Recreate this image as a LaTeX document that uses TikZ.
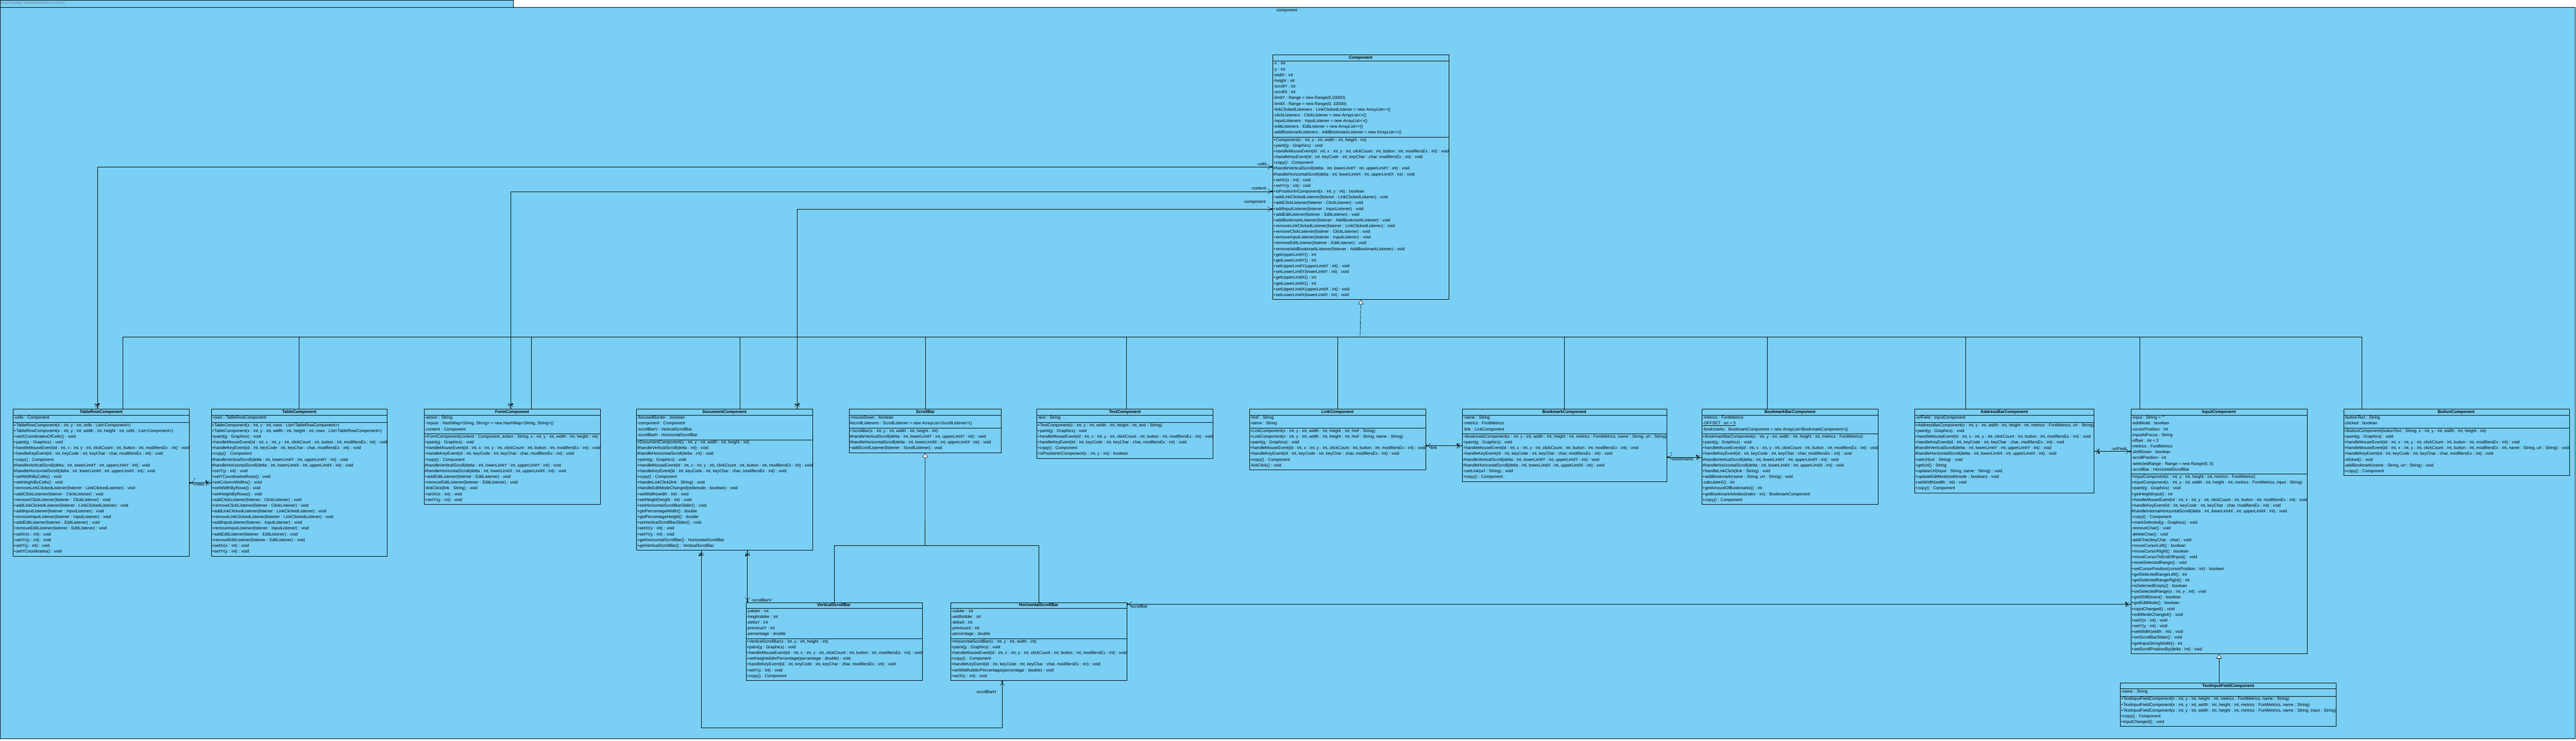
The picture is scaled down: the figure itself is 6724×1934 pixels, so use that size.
\documentclass[tikz,border=0pt]{standalone}
\usepackage{fontspec}
\setmainfont{Liberation Sans}
\usepackage{array}
\usetikzlibrary{positioning, arrows.meta, decorations.markings}
\definecolor{vpblue}{RGB}{122,207,245}

\newcommand{\classtab}[4]{%
  \begin{tabular}{@{\hspace{1.5pt}}l@{}}
  \makebox[#1pt][c]{\bfseries #2}\\ \hline
  #3\\[4pt] \hline
  #4\\[4pt]
  \end{tabular}}
\newcommand{\umlPaint}{+paint(g : Graphics) : void}
\newcommand{\umlMouse}{+handleMouseEvent(id : int, x : int, y : int, clickCount : int, button : int, modifiersEx : int) : void}
\newcommand{\umlKey}{+handleKeyEvent(id : int, keyCode : int, keyChar : char, modifiersEx : int) : void}
\newcommand{\umlVScroll}{\#handleVerticalScroll(delta : int, lowerLimitY : int, upperLimitY : int) : void}
\newcommand{\umlHScroll}{\#handleHorizontalScroll(delta : int, lowerLimitX : int, upperLimitX : int) : void}
\newcommand{\umlCopy}{+copy() : Component}

\begin{document}
\begin{tikzpicture}[x=1pt, y=-1pt,
umlclass/.style={draw=black, line width=0.9pt, fill=vpblue, inner sep=0pt, anchor=north west, font=\fontsize{11}{15}\selectfont},
conn/.style={draw=black, line width=0.8pt},
generalization/.style={conn, -{Triangle[length=12pt, width=14pt, fill=white]}},
assoc/.style={conn, -{Straight Barb[length=7pt, width=12pt] Circle[length=5pt]}},
nonnav/.style={postaction={decorate, decoration={markings, mark=at position 10pt with {\draw[line width=0.8pt] (-4pt,-6pt) -- (4pt,6pt) (-4pt,6pt) -- (4pt,-6pt);}}}},
role/.style={font=\fontsize{11}{13}\selectfont, inner sep=1pt}
]
\useasboundingbox (0,0) rectangle (6724,1934);
\draw[fill=vpblue, line width=1pt] (0,0) rectangle (1340,20);
\node[anchor=north west, text=black!55, font=\fontsize{8}{9}\selectfont, inner sep=1pt] (edition_note) at (0,3) {Visual Paradigm Standard(anissa(K.U.Leuven))};
\draw[fill=vpblue, line width=1.2pt] (0,20) rectangle (6722,1929);
\node[role] (package_name) at (3359,28) {component};

\node[umlclass] (component) at (3322,143) {\classtab{455.5}{\textit{Component}}{%
-x : int\\ -y : int\\ -width : int\\ -height : int\\ -scrollY : int\\ -scrollX : int\\
-limitY : Range = new Range(0,10000)\\ -limitX : Range = new Range(0, 10000)\\
-linkClickedListeners : LinkClickedListener = new ArrayList<>()\\
-clickListeners : ClickListener = new ArrayList<>()\\
-inputListeners : InputListener = new ArrayList<>()\\
-editListeners : EditListener = new ArrayList<>()\\
-addBookmarkListeners : AddBookmarkListener = new ArrayList<>()}{%
+Component(x : int, y : int, width : int, height : int)\\
\textit{\umlPaint}\\ \textit{\umlMouse}\\ \textit{\umlKey}\\ \textit{\umlCopy}\\
\umlVScroll\\ \umlHScroll\\
+setXr(x : int) : void\\ +setYr(y : int) : void\\
+isPositionInComponent(x : int, y : int) : boolean\\
+addLinkClickedListener(listener : LinkClickedListener) : void\\
+addClickListener(listener : ClickListener) : void\\
+addInputListener(listener : InputListener) : void\\
+addEditListener(listener : EditListener) : void\\
+addBookmarkListener(listener : AddBookmarkListener) : void\\
+removeLinkClickedListener(listener : LinkClickedListener) : void\\
+removeClickListener(listener : ClickListener) : void\\
+removeInputListener(listener : InputListener) : void\\
+removeEditListener(listener : EditListener) : void\\
+removeAddBookmarkListener(listener : AddBookmarkListener) : void\\
+getUpperLimitY() : int\\ +getLowerLimitY() : int\\
+setUpperLimitY(upperLimitY : int) : void\\ +setLowerLimitY(lowerLimitY : int) : void\\
+getUpperLimitX() : int\\ +getLowerLimitX() : int\\
+setUpperLimitX(upperLimitX : int) : void\\ +setLowerLimitX(lowerLimitX : int) : void}};

\node[umlclass] (table_row) at (34,1068) {\classtab{456.5}{TableRowComponent}{-cells : Component}{%
+TableRowComponent(x : int, y : int, cells : List<Component>)\\
+TableRowComponent(x : int, y : int, width : int, height : int, cells : List<Component>)\\
+setXCoordinatesOfCells() : void\\ \umlPaint\\ \umlMouse\\ \umlKey\\ \umlCopy\\
\umlVScroll\\ \umlHScroll\\
+setWidthByCells() : void\\ +setHeightByCells() : void\\
+removeLinkClickedListener(listener : LinkClickedListener) : void\\
+addClickListener(listener : ClickListener) : void\\
+removeClickListener(listener : ClickListener) : void\\
+addLinkClickedListener(listener : LinkClickedListener) : void\\
+addInputListener(listener : InputListener) : void\\
+removeInputListener(listener : InputListener) : void\\
+addEditListener(listener : EditListener) : void\\
+removeEditListener(listener : EditListener) : void\\
+setXr(x : int) : void\\ +setYr(y : int) : void\\ +setY(y : int) : void\\
+setYCoordinates() : void}};

\node[umlclass] (table) at (551,1068) {\classtab{456.5}{TableComponent}{-rows : TableRowComponent}{%
+TableComponent(x : int, y : int, rows : List<TableRowComponent>)\\
+TableComponent(x : int, y : int, width : int, height : int, rows : List<TableRowComponent>)\\
\umlPaint\\ \umlMouse\\ \umlKey\\ \umlCopy\\ \umlVScroll\\ \umlHScroll\\
+setY(y : int) : void\\ +setYCoordinatesRows() : void\\ +setColumnWidths() : void\\
+setWidthByRows() : void\\ +setHeightByRows() : void\\
+addClickListener(listener : ClickListener) : void\\
+removeClickListener(listener : ClickListener) : void\\
+addLinkClickedListener(listener : LinkClickedListener) : void\\
+removeLinkClickedListener(listener : LinkClickedListener) : void\\
+addInputListener(listener : InputListener) : void\\
+removeInputListener(listener : InputListener) : void\\
+addEditListener(listener : EditListener) : void\\
+removeEditListener(listener : EditListener) : void\\
+setXr(x : int) : void\\ +setYr(y : int) : void}};

\node[umlclass] (form) at (1107,1068) {\classtab{455.5}{FormComponent}{%
-action : String\\
\textasciitilde inputs : HashMap<String, String> = new HashMap<String, String>()\\
-content : Component}{%
+FormComponent(content : Component, action : String, x : int, y : int, width : int, height : int)\\
\umlPaint\\ \umlMouse\\ \umlKey\\ \umlCopy\\ \umlVScroll\\ \umlHScroll\\
+addEditListener(listener : EditListener) : void\\
+removeEditListener(listener : EditListener) : void\\
-linkClick(link : String) : void\\ +setXr(x : int) : void\\ +setYr(y : int) : void}};

\node[umlclass] (document) at (1661,1068) {\classtab{456.5}{DocumentComponent}{%
-focusedBorder : boolean\\ -component : Component\\
-scrollBarV : VerticalScrollBar\\ -scrollBarH : HorizontalScrollBar}{%
+DocumentComponent(x : int, y : int, width : int, height : int)\\
\#handleVerticalScroll(delta : int) : void\\ \#handleHorizontalScroll(delta : int) : void\\
\umlPaint\\ \umlMouse\\ \umlKey\\ \umlCopy\\
+handleLinkClick(link : String) : void\\
+handleEditModeChanged(editmode : boolean) : void\\
+setWidth(width : int) : void\\ +setHeight(height : int) : void\\
+setHorizontalScrollBarSlider() : void\\
+getPercentageWidth() : double\\ +getPercentageHeight() : double\\
+setVerticalScrollBarSlider() : void\\
+setXr(x : int) : void\\ +setYr(y : int) : void\\
+getHorizontalScrollBar() : HorizontalScrollBar\\
+getVerticalScrollBar() : VerticalScrollBar}};

\node[umlclass] (scroll_bar) at (2216,1068) {\classtab{395.5}{\textit{ScrollBar}}{%
-mouseDown : boolean\\
\#scrollListeners : ScrollListener = new ArrayList<ScrollListener>()}{%
+ScrollBar(x : int, y : int, width : int, height : int)\\
\umlVScroll\\ \umlHScroll\\
+addScrollListener(listener : ScrollListener) : void}};

\node[umlclass] (text_comp) at (2706,1068) {\classtab{456.5}{TextComponent}{-text : String}{%
+TextComponent(x : int, y : int, width : int, height : int, text : String)\\
\umlPaint\\ \umlMouse\\ \umlKey\\ \umlCopy\\
+isPositionInComponent(x : int, y : int) : boolean}};

\node[umlclass] (link) at (3261,1068) {\classtab{456.5}{LinkComponent}{-href : String\\ -name : String}{%
+LinkComponent(x : int, y : int, width : int, height : int, href : String)\\
+LinkComponent(x : int, y : int, width : int, height : int, href : String, name : String)\\
\umlPaint\\ \umlMouse\\ \umlKey\\ \umlCopy\\ -linkClick() : void}};

\node[umlclass] (bookmark) at (3817,1068) {\classtab{528.5}{BookmarkComponent}{%
-name : String\\ -metrics : FontMetrics\\ -link : LinkComponent}{%
+BookmarkComponent(x : int, y : int, width : int, height : int, metrics : FontMetrics, name : String, url : String)\\
\umlPaint\\ \umlMouse\\ \umlKey\\ \umlVScroll\\ \umlHScroll\\
+setLink(url : String) : void\\ \umlCopy}};

\node[umlclass] (bookmark_bar) at (4442,1068) {\classtab{456.5}{BookmarkBarComponent}{%
-metrics : FontMetrics\\ \underline{-OFFSET : int = 5}\\
-bookmarks : BookmarkComponent = new ArrayList<BookmarkComponent>()}{%
+BookmarkBarComponent(x : int, y : int, width : int, height : int, metrics : FontMetrics)\\
\umlPaint\\ \umlMouse\\ \umlKey\\ \umlVScroll\\ \umlHScroll\\
+handleLinkClick(link : String) : void\\
+addBookmark(name : String, url : String) : void\\
-calculateX() : int\\ +getAmountOfBookmarks() : int\\
+getBookmarkAtIndex(index : int) : BookmarkComponent\\ \umlCopy}};

\node[umlclass] (address_bar) at (4997,1068) {\classtab{465.5}{AddressBarComponent}{-urlField : InputComponent}{%
+AddressBarComponent(x : int, y : int, width : int, height : int, metrics : FontMetrics, url : String)\\
\umlPaint\\ \umlMouse\\ \umlKey\\ \umlVScroll\\ \umlHScroll\\
+setUrl(url : String) : void\\ +getUrl() : String\\
+updateUrl(input : String, name : String) : void\\
+updateEditMode(editmode : boolean) : void\\
+setWidth(width : int) : void\\ \umlCopy}};

\node[umlclass] (input) at (5562,1068) {\classtab{455.5}{InputComponent}{%
-input : String = \char34\char34\\ -editMode : boolean\\ -cursorPosition : int\\
-inputAtFocus : String\\ -offset : int = 2\\ -metrics : FontMetrics\\
-shiftDown : boolean\\ -scrollPosition : int\\
-selectedRange : Range = new Range(0, 0)\\ -scrollBar : HorizontalScrollBar}{%
+InputComponent(x : int, y : int, height : int, metrics : FontMetrics)\\
+InputComponent(x : int, y : int, width : int, height : int, metrics : FontMetrics, input : String)\\
\umlPaint\\ +getHeightInput() : int\\ \umlMouse\\ \umlKey\\
\#handleInternalHorizontalScroll(delta : int, lowerLimitX : int, upperLimitX : int) : void\\
\umlCopy\\ +markSelected(g : Graphics) : void\\
-removeChar() : void\\ -deleteChar() : void\\ -addChar(keyChar : char) : void\\
+moveCursorLeft() : boolean\\ +moveCursorRight() : boolean\\
+moveCursorToEndOfInput() : void\\ +resetSelectedRange() : void\\
+setCursorPosition(cursorPosition : int) : boolean\\
+getSelectedRangeLeft() : int\\ +getSelectedRangeRight() : int\\
+isSelectedEmpty() : boolean\\ +setSelectedRange(x : int, y : int) : void\\
+getShiftDown() : boolean\\ +getEditMode() : boolean\\
+inputChanged() : void\\ +editModeChanged() : void\\
+setX(x : int) : void\\ +setY(y : int) : void\\ +setWidth(width : int) : void\\
+setScrollBarSlider() : void\\ +getInputStringWidth() : int\\
+setScrollPositionBy(delta : int) : void}};

\node[umlclass] (button) at (6117,1068) {\classtab{584.5}{ButtonComponent}{-buttonText : String\\ -clicked : boolean}{%
+ButtonComponent(buttonText : String, x : int, y : int, width : int, height : int)\\
\umlPaint\\ \umlMouse\\
+handleMouseEvent(id : int, x : int, y : int, clickCount : int, button : int, modifiersEx : int, name : String, url : String) : void\\
\umlKey\\ -clicked() : void\\ -addBookmark(name : String, url : String) : void\\ \umlCopy}};

\node[umlclass] (vertical_scroll_bar) at (1947,1573) {\classtab{455.5}{VerticalScrollBar}{%
-yslider : int\\ -heightslider : int\\ -deltaY : int\\ -previousY : int\\ -percentage : double}{%
+VerticalScrollBar(x : int, y : int, height : int)\\ \umlPaint\\ \umlMouse\\
+setHeightsliderPercentage(percentage : double) : void\\ \umlKey\\
+setY(y : int) : void\\ \umlCopy}};

\node[umlclass] (horizontal_scroll_bar) at (2481,1573) {\classtab{456.5}{HorizontalScrollBar}{%
-xslider : int\\ -widthslider : int\\ -deltaX : int\\ -previousX : int\\ -percentage : double}{%
+HorizontalScrollBar(x : int, y : int, width : int)\\ \umlPaint\\ \umlMouse\\ \umlCopy\\ \umlKey\\
+setWidthsliderPercentage(percentage : double) : void\\ +setX(x : int) : void}};

\node[umlclass] (text_input_field) at (5534,1783) {\classtab{560.5}{TextInputFieldComponent}{-name : String}{%
+TextInputFieldComponent(x : int, y : int, height : int, metrics : FontMetrics, name : String)\\
+TextInputFieldComponent(x : int, y : int, width : int, height : int, metrics : FontMetrics, name : String)\\
+TextInputFieldComponent(x : int, y : int, width : int, height : int, metrics : FontMetrics, name : String, input : String)\\
\umlCopy\\ +inputChanged() : void}};

\coordinate (bus) at (3550,880);
\draw[generalization] (bus) -- (component.south);
\foreach \n/\dx in {table_row/286, table/229, form/280, document/271, scroll_bar/199, text_comp/234, link/230, bookmark/266, bookmark_bar/171, address_bar/134, input/23, button/48}
  \draw[conn] ([xshift=\dx pt]\n.north west) |- (bus);

\coordinate (scroll_bus) at (2414.5,1425);
\draw[generalization] (scroll_bus) -- (scroll_bar.south);
\draw[conn] (vertical_scroll_bar.north) |- (scroll_bus);
\draw[conn] (horizontal_scroll_bar.north) |- (scroll_bus);
\draw[generalization] (text_input_field.north -| input.south) -- (input.south);

\draw[assoc, nonnav] ([xshift=220pt]table_row.north west) |- (component.west |- 0,436)
  node[role, anchor=south east, xshift=-14pt, yshift=2pt] (cells_label) {-cells};
\draw[assoc, nonnav] ([xshift=226pt]form.north west) |- (component.west |- 0,500)
  node[role, anchor=south east, xshift=-16pt, yshift=3pt] (content_label) {-content};
\draw[assoc, nonnav] ([xshift=420pt]document.north west) |- (component.west |- 0,546)
  node[role, anchor=south east, xshift=-17pt, yshift=12pt] (component_label) {-component};

\draw[assoc, nonnav] (table.west |- 0,1261) -- (table_row.east |- 0,1261)
  node[role, anchor=north west, xshift=10pt] (rows_label) {-rows}
  node[role, anchor=south west, xshift=10pt, yshift=3pt] (rows_mult) {*};
\draw[assoc, nonnav] (bookmark.west |- 0,1164) -- (link.east |- 0,1164)
  node[role, anchor=north west, xshift=8pt] (link_label) {-link};
\draw[assoc, nonnav] (bookmark_bar.west |- 0,1194) -- (bookmark.east |- 0,1194)
  node[role, anchor=north west, xshift=10pt] (bookmarks_label) {-bookmarks}
  node[role, anchor=south west, xshift=8pt, yshift=3pt] (bookmarks_mult) {*};
\draw[assoc, nonnav] (address_bar.east |- 0,1179) -- (input.west |- 0,1179)
  node[role, anchor=south east, xshift=-10pt, yshift=1pt] (url_field_label) {-urlField};
\draw[assoc, nonnav] (input.west |- 0,1578) -- (horizontal_scroll_bar.east |- 0,1578)
  node[role, anchor=north west, xshift=6pt] (scroll_bar_label) {-scrollBar};

\coordinate (doc_v) at ([xshift=290pt]document.south west);
\coordinate (doc_h) at ([xshift=169pt]document.south west);
\draw[assoc, nonnav] (doc_v) -- (doc_v |- vertical_scroll_bar.north)
  node[role, anchor=south west, xshift=8pt] (scroll_bar_v_label) {-scrollBarV};
\draw[assoc, nonnav] (doc_h) -- (doc_h |- 0,1900) -| ([xshift=135pt]horizontal_scroll_bar.south west)
  node[role, anchor=north east, xshift=-14pt, yshift=-24pt] (scroll_bar_h_label) {-scrollBarH};
\end{tikzpicture}
\end{document}
